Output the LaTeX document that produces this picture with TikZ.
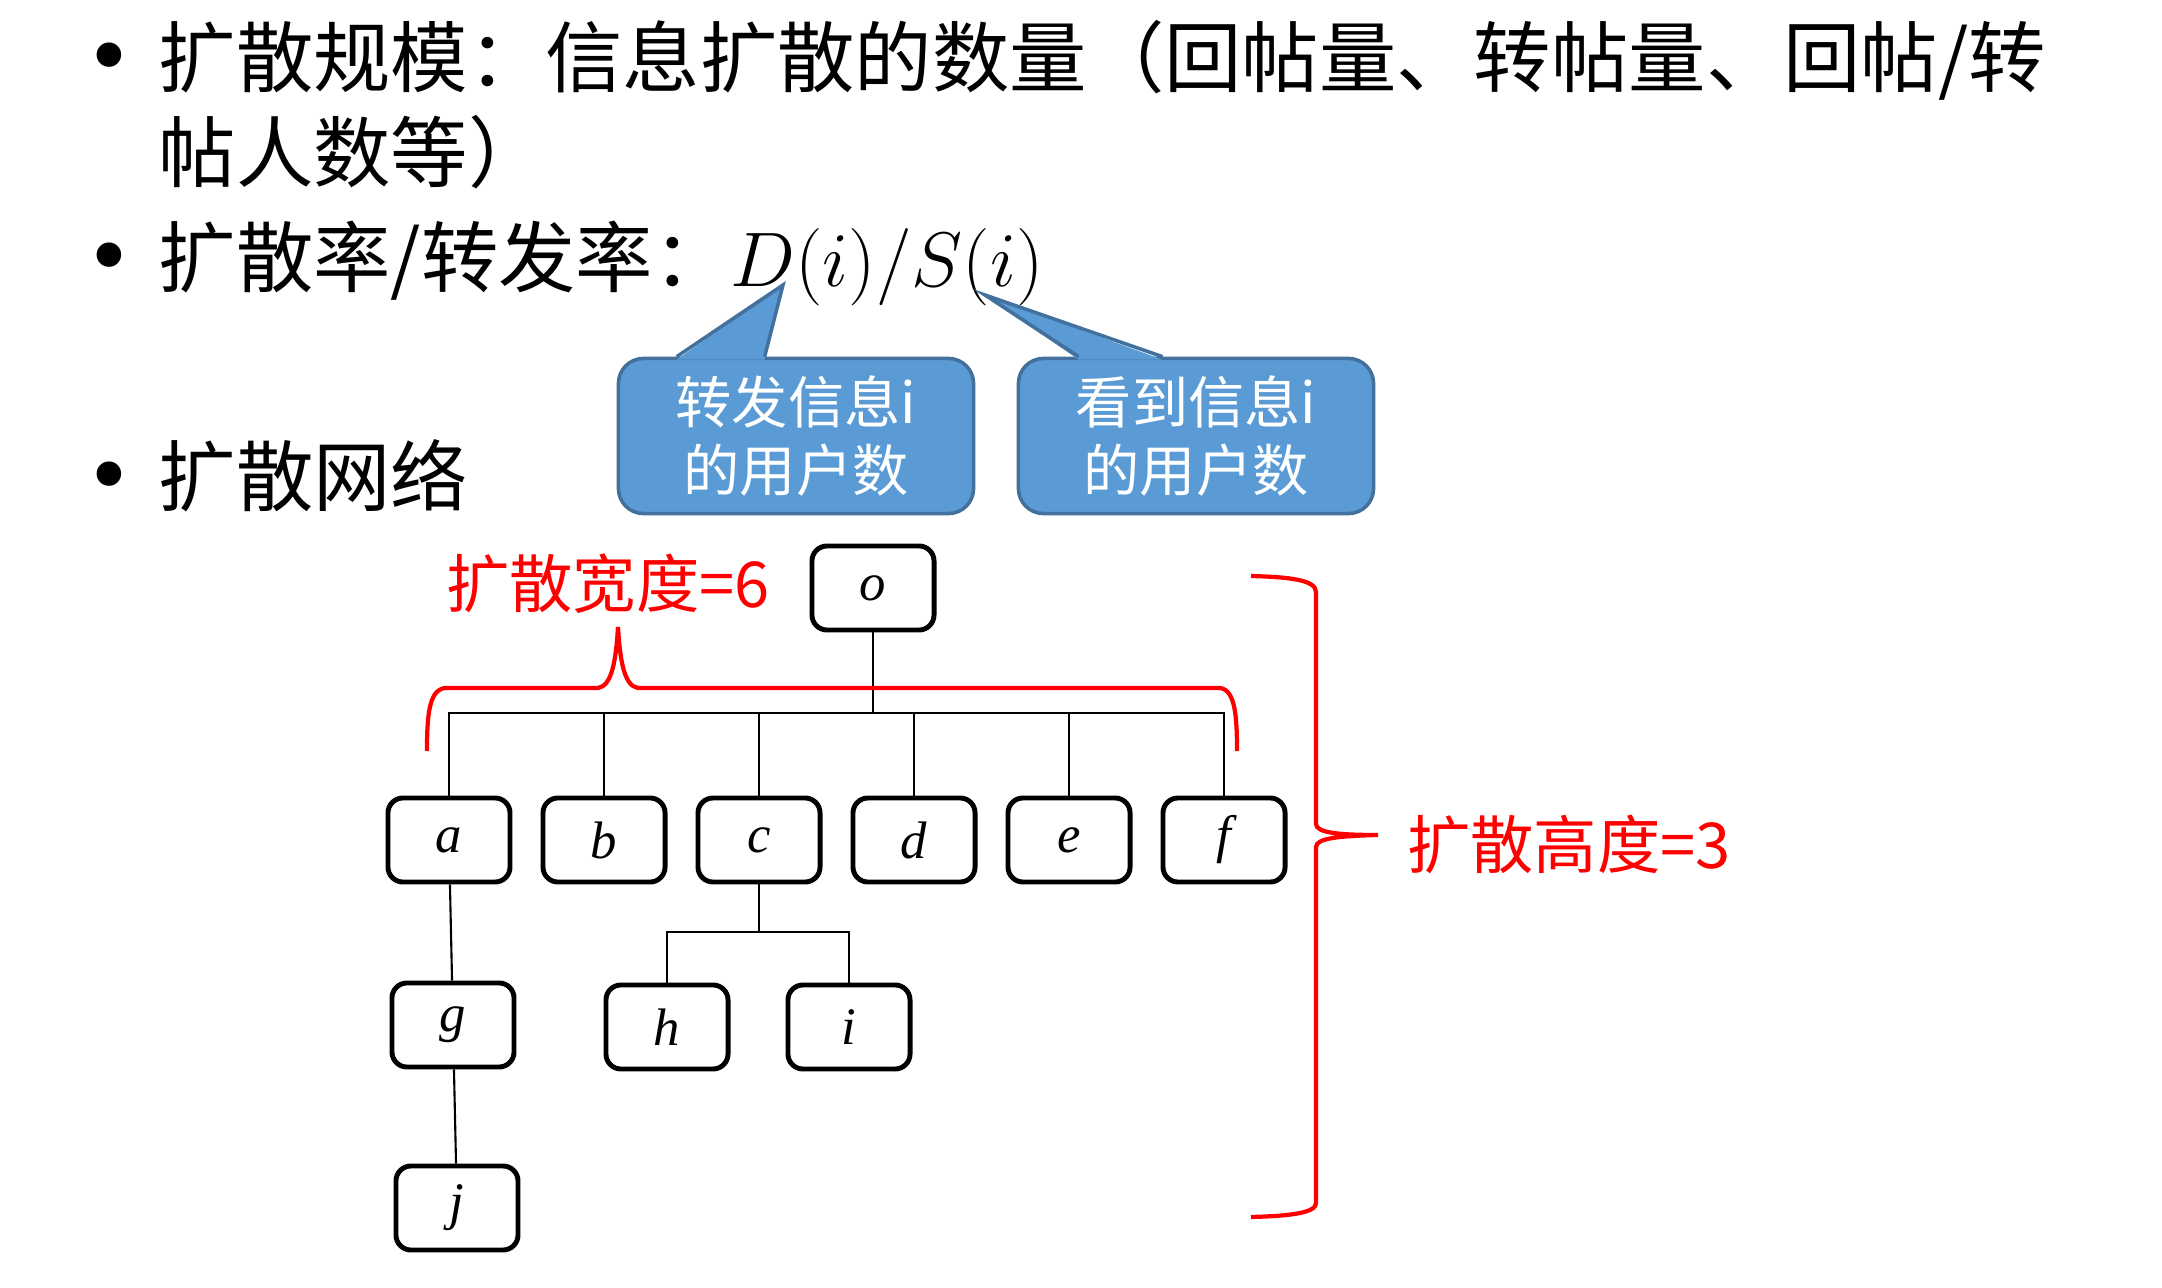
\RequirePackage{fix-cm}
\documentclass[tikz,border=0pt]{standalone}
\usepackage{fontspec}
\setmainfont{Noto Sans CJK SC}
\newfontfamily\letterfont{Liberation Serif}
\newfontfamily\dotfont{DejaVu Sans}
\usepackage{tikz}
\usetikzlibrary{positioning,calc}
\definecolor{bubblefill}{HTML}{5B9BD5}
\definecolor{bubbleedge}{HTML}{41719C}

\begin{document}
\begin{tikzpicture}[x=0.01cm, y=-0.01cm, every node/.style={inner sep=0pt},
  item/.style={anchor=base west, font=\fontsize{22}{27}\selectfont},
  dot/.style={anchor=base, font=\dotfont\fontsize{24}{27}\selectfont},
  bubble/.style={fill=bubblefill, draw=bubbleedge, line width=1pt, rounded corners=0.25cm, minimum width=3.55cm, minimum height=1.55cm, text=white, align=center, font=\fontsize{16}{19.3}\selectfont},
  pointer/.style={draw=bubbleedge, line width=1pt},
  tnode/.style={draw, line width=1.4pt, rounded corners=0.15cm, minimum width=1.22cm, minimum height=0.84cm, font=\letterfont\itshape\fontsize{15}{18}\selectfont},
  link/.style={line width=0.6pt},
  brace/.style={red, line width=1.2pt},
  note/.style={red, font=\fontsize{18}{22}\selectfont}]
  \useasboundingbox (0,0) rectangle (2162,1288);

  % bullet list
  \node[dot] (dotA) at (109,87) {•};
  \node[item] (itemA) at (158,87) {扩散规模：信息扩散的数量（回帖量、转帖量、回帖/转};
  \node[item] (itemAcont) at (158,182) {帖人数等）};
  \node[dot] (dotB) at (109,287) {•};
  \node[item] (itemB) at (158,287) {扩散率/转发率：$D(i)/S(i)$};
  \node[dot] (dotC) at (109,506) {•};
  \node[item] (itemC) at (158,506) {扩散网络};

  % callouts
  \coordinate (fwdTip) at (783,285);
  \coordinate (seenTip) at (985,295);
  \node[bubble] (fwd) at (796,436) {转发信息i\\的用户数};
  \node[bubble] (seen) at (1196,436) {看到信息i\\的用户数};
  \fill[bubblefill] ($(fwd.north west)+(60,3)$) -- (fwdTip) -- ($(fwd.north west)+(148,3)$) -- cycle;
  \draw[pointer] ($(fwd.north west)+(60,0)$) -- (fwdTip) -- ($(fwd.north west)+(148,0)$);
  \fill[bubblefill] ($(seen.north west)+(62,3)$) -- (seenTip) -- ($(seen.north west)+(146,3)$) -- cycle;
  \draw[pointer] ($(seen.north west)+(62,0)$) -- (seenTip) -- ($(seen.north west)+(146,0)$);

  % tree
  \node[tnode] (o) at (873,588) {o};
  \node[tnode] (a) at (449,840) {a};
  \node[tnode, right=0.28cm of a] (b) {b};
  \node[tnode, right=0.28cm of b] (c) {c};
  \node[tnode, right=0.28cm of c] (d) {d};
  \node[tnode, right=0.28cm of d] (e) {e};
  \node[tnode, right=0.28cm of e] (f) {f};
  \node[tnode] (g) at (453,1025) {g};
  \node[tnode] (h) at (667,1027) {h};
  \node[tnode] (i) at (849,1027) {i};
  \node[tnode] (j) at (457,1208) {j};

  \coordinate (oBar) at (o.south |- 0,713);
  \draw[link] (o.south) -- (oBar);
  \foreach \kid in {a,b,c,d,e,f}
    \draw[link] (\kid.north) |- (oBar);
  \coordinate (cBar) at (c.south |- 0,932);
  \draw[link] (c.south) -- (cBar);
  \foreach \kid in {h,i}
    \draw[link] (\kid.north) |- (cBar);
  \draw[link] (a) -- (g);
  \draw[link] (g) -- (j);

  % width brace
  \draw[brace] (427,751) .. controls (427,715) and (429,690) .. (445,688) -- (598,688)
    .. controls (612,686) and (616,660) .. (618,627)
    .. controls (620,660) and (624,686) .. (638,688) -- (1220,688)
    .. controls (1235,690) and (1237,715) .. (1237,751);
  \node[note] (widthLabel) at (608,584) {扩散宽度=6};

  % height brace
  \draw[brace] (1251,576) .. controls (1290,577) and (1316,580) .. (1316,592) -- (1316,824)
    .. controls (1316,833) and (1340,835) .. (1378,835)
    .. controls (1340,836) and (1316,838) .. (1316,847) -- (1316,1203)
    .. controls (1316,1213) and (1290,1216) .. (1251,1217);
  \node[note] (heightLabel) at (1569,844) {扩散高度=3};
\end{tikzpicture}
\end{document}
